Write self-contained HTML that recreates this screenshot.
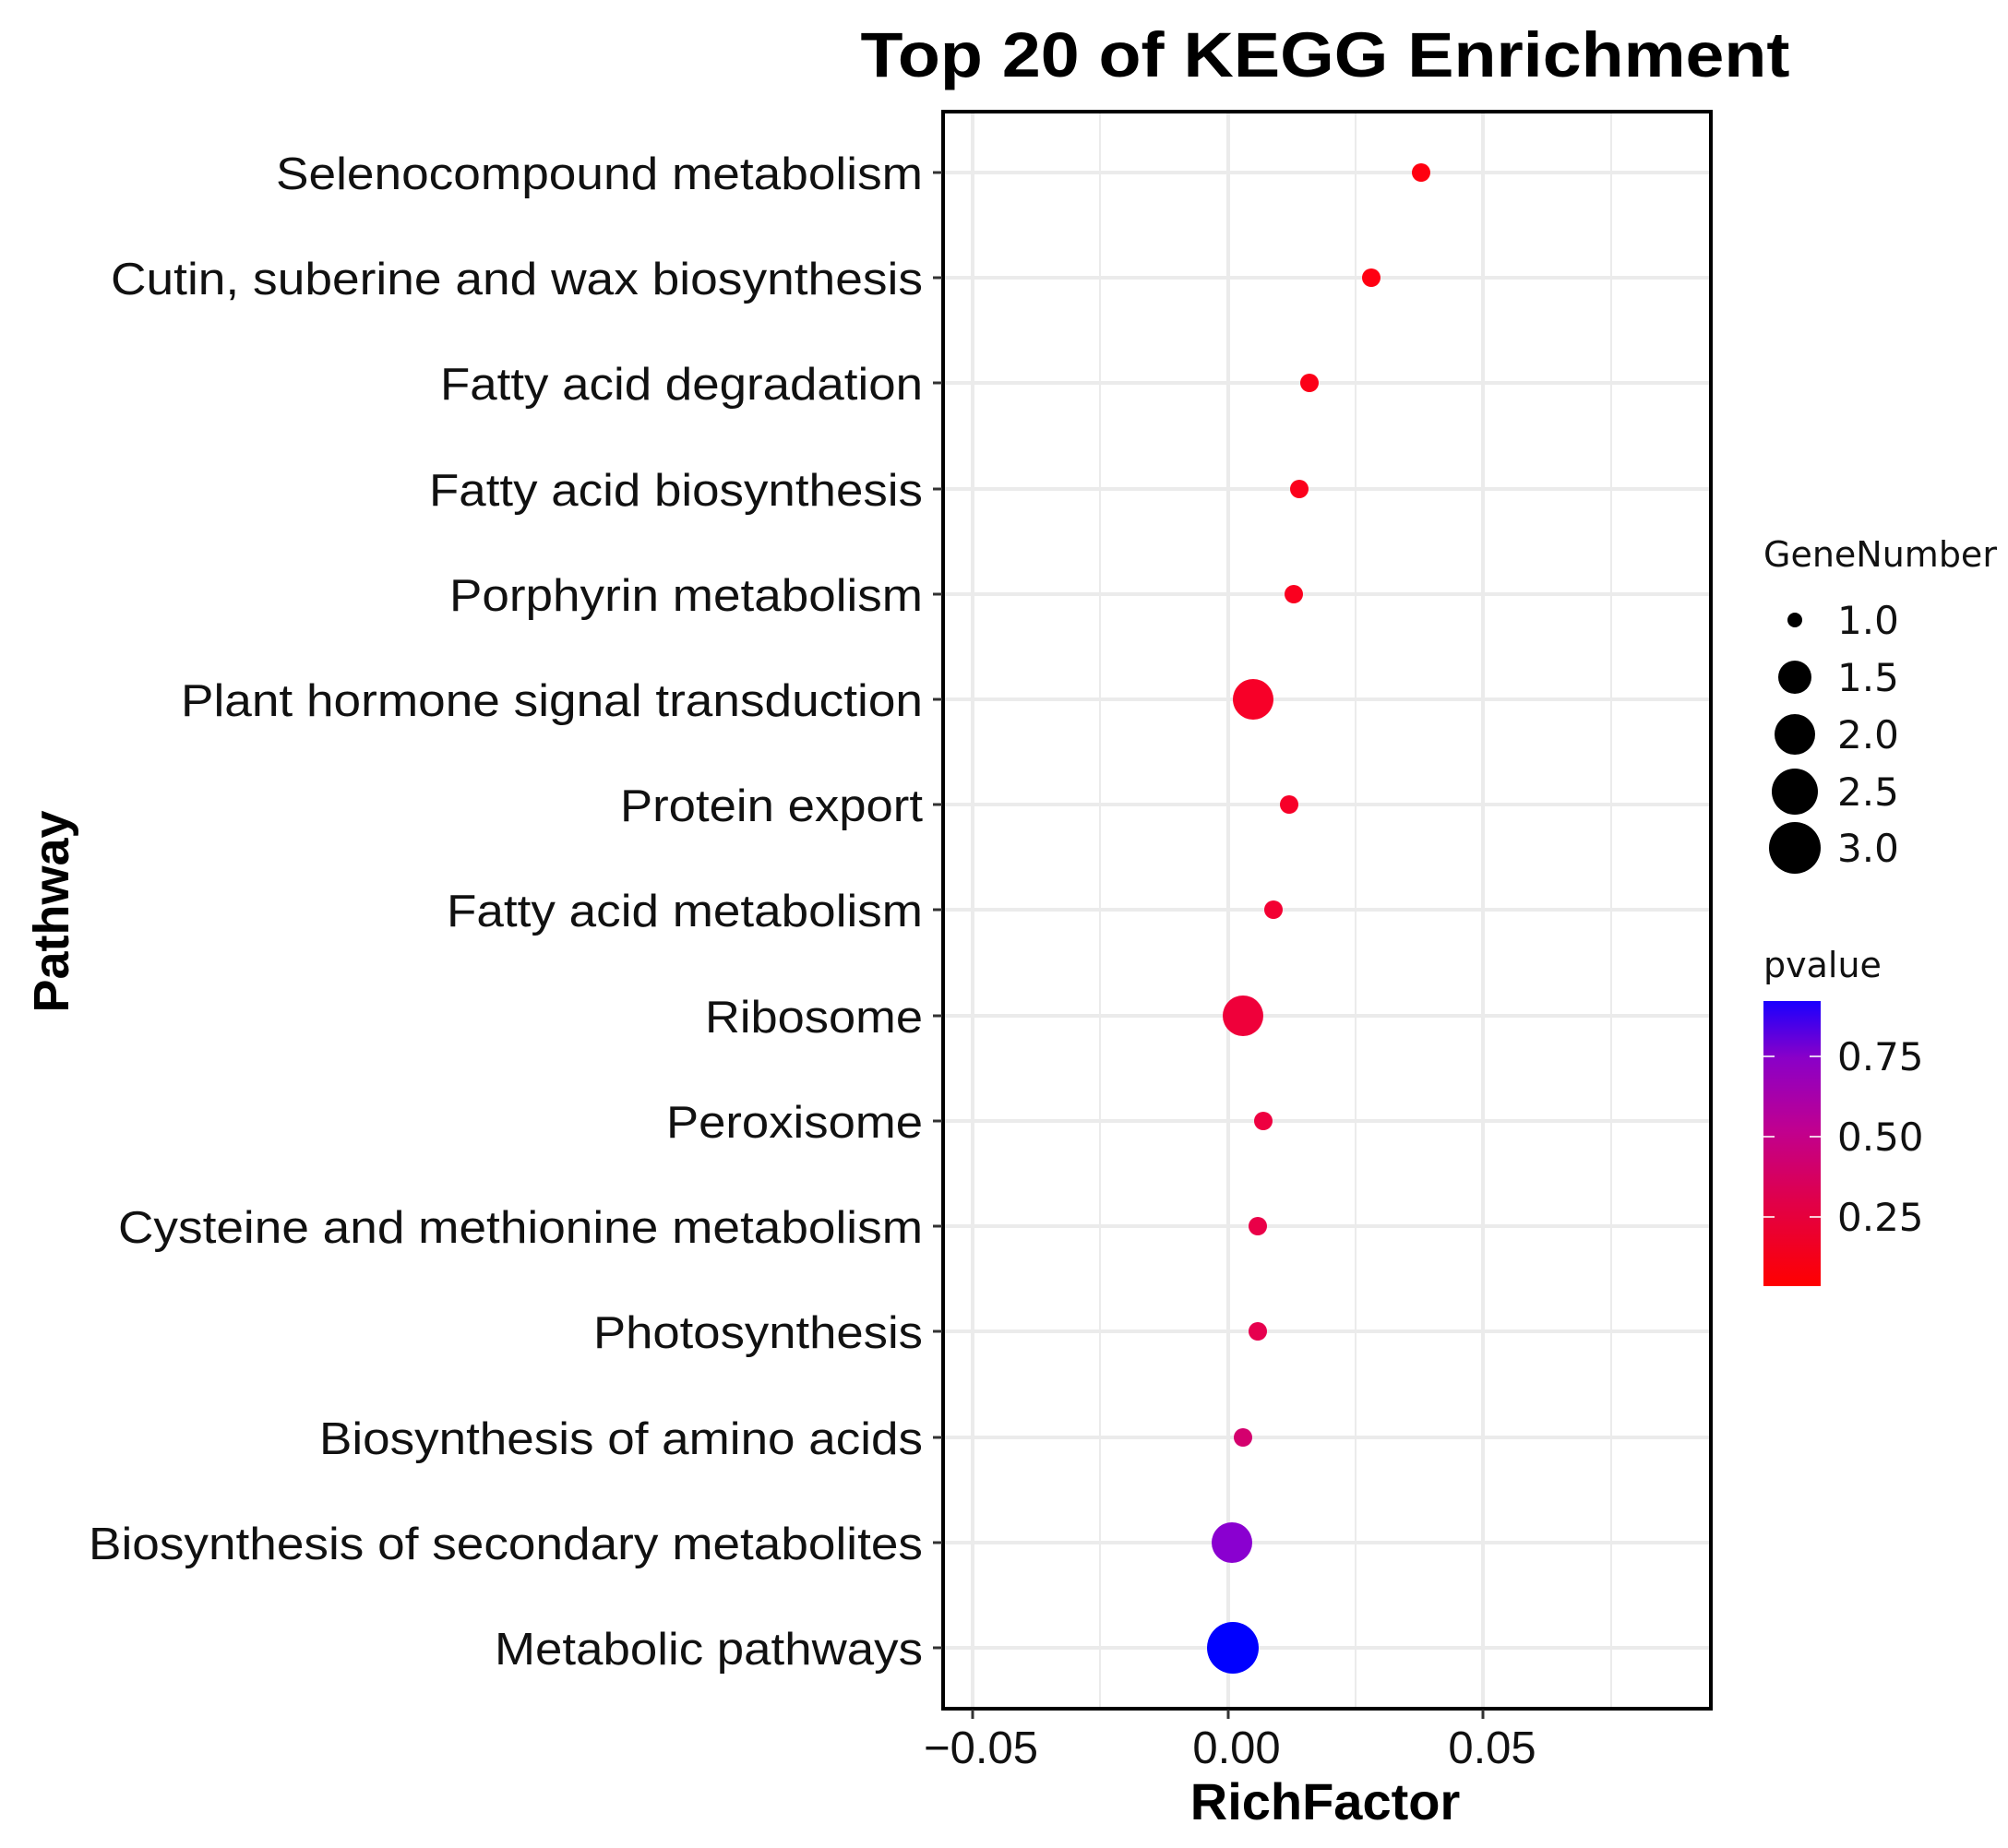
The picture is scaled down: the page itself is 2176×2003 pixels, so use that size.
<!DOCTYPE html>
<html><head><meta charset="utf-8"><style>html,body{margin:0;padding:0;background:#fff}</style></head>
<body>
<svg width="2176" height="1998" viewBox="0 0 2176 1998" xmlns="http://www.w3.org/2000/svg" font-family="Liberation Sans, Arial, sans-serif">
<defs>
<linearGradient id="pv" x1="0" y1="1" x2="0" y2="0">
<stop offset="0" stop-color="#ff0000"/>
<stop offset="0.3" stop-color="#e0004a"/>
<stop offset="0.55" stop-color="#c00090"/>
<stop offset="0.8" stop-color="#8a00c8"/>
<stop offset="1" stop-color="#1a00ff"/>
</linearGradient>
</defs>
<rect width="2176" height="1998" fill="#fff"/>
<text x="1436" y="83" font-size="69" font-weight="bold" text-anchor="middle" textLength="1007" lengthAdjust="spacingAndGlyphs">Top 20 of KEGG Enrichment</text>
<g stroke="#ebebeb">
<g stroke-width="2">
<line x1="1192" y1="122" x2="1192" y2="1851"/><line x1="1469" y1="122" x2="1469" y2="1851"/><line x1="1746" y1="122" x2="1746" y2="1851"/>
</g>
<g stroke-width="4">
<line x1="1054" y1="122" x2="1054" y2="1851"/><line x1="1331" y1="122" x2="1331" y2="1851"/><line x1="1607" y1="122" x2="1607" y2="1851"/>
<line x1="1023" y1="187" x2="1853" y2="187"/><line x1="1023" y1="301" x2="1853" y2="301"/><line x1="1023" y1="415" x2="1853" y2="415"/><line x1="1023" y1="530" x2="1853" y2="530"/><line x1="1023" y1="644" x2="1853" y2="644"/><line x1="1023" y1="758" x2="1853" y2="758"/><line x1="1023" y1="872" x2="1853" y2="872"/><line x1="1023" y1="986" x2="1853" y2="986"/><line x1="1023" y1="1101" x2="1853" y2="1101"/><line x1="1023" y1="1215" x2="1853" y2="1215"/><line x1="1023" y1="1329" x2="1853" y2="1329"/><line x1="1023" y1="1443" x2="1853" y2="1443"/><line x1="1023" y1="1558" x2="1853" y2="1558"/><line x1="1023" y1="1672" x2="1853" y2="1672"/><line x1="1023" y1="1786" x2="1853" y2="1786"/>
</g></g>
<circle cx="1540" cy="187" r="10" fill="#ff0010"/>
<circle cx="1486" cy="301" r="10" fill="#ff0012"/>
<circle cx="1419" cy="415" r="10" fill="#fc0018"/>
<circle cx="1408" cy="530" r="10" fill="#fb001c"/>
<circle cx="1402" cy="644" r="10" fill="#fa001f"/>
<circle cx="1358" cy="758" r="22" fill="#f70028"/>
<circle cx="1397" cy="872" r="10" fill="#f70028"/>
<circle cx="1380" cy="986" r="10" fill="#f30032"/>
<circle cx="1347" cy="1101" r="22" fill="#ef003a"/>
<circle cx="1369" cy="1215" r="10" fill="#ee0040"/>
<circle cx="1363" cy="1329" r="10" fill="#ea0048"/>
<circle cx="1363" cy="1443" r="10" fill="#e6004e"/>
<circle cx="1347" cy="1558" r="10" fill="#d4006e"/>
<circle cx="1335" cy="1672" r="22" fill="#8a00d0"/>
<circle cx="1336" cy="1786" r="28" fill="#0000ff"/>
<rect x="1022" y="121" width="832" height="1731" fill="none" stroke="#000" stroke-width="4"/>
<g stroke="#333" stroke-width="3">
<line x1="1011" y1="187" x2="1021" y2="187"/><line x1="1011" y1="301" x2="1021" y2="301"/><line x1="1011" y1="415" x2="1021" y2="415"/><line x1="1011" y1="530" x2="1021" y2="530"/><line x1="1011" y1="644" x2="1021" y2="644"/><line x1="1011" y1="758" x2="1021" y2="758"/><line x1="1011" y1="872" x2="1021" y2="872"/><line x1="1011" y1="986" x2="1021" y2="986"/><line x1="1011" y1="1101" x2="1021" y2="1101"/><line x1="1011" y1="1215" x2="1021" y2="1215"/><line x1="1011" y1="1329" x2="1021" y2="1329"/><line x1="1011" y1="1443" x2="1021" y2="1443"/><line x1="1011" y1="1558" x2="1021" y2="1558"/><line x1="1011" y1="1672" x2="1021" y2="1672"/><line x1="1011" y1="1786" x2="1021" y2="1786"/>
<line x1="1054" y1="1853" x2="1054" y2="1863"/><line x1="1331" y1="1853" x2="1331" y2="1863"/><line x1="1607" y1="1853" x2="1607" y2="1863"/>
</g>
<g font-size="49" fill="#111" text-anchor="end">
<text x="1000" y="205" textLength="701" lengthAdjust="spacingAndGlyphs">Selenocompound metabolism</text>
<text x="1000" y="319" textLength="880" lengthAdjust="spacingAndGlyphs">Cutin, suberine and wax biosynthesis</text>
<text x="1000" y="433" textLength="523" lengthAdjust="spacingAndGlyphs">Fatty acid degradation</text>
<text x="1000" y="548" textLength="535" lengthAdjust="spacingAndGlyphs">Fatty acid biosynthesis</text>
<text x="1000" y="662" textLength="513" lengthAdjust="spacingAndGlyphs">Porphyrin metabolism</text>
<text x="1000" y="776" textLength="804" lengthAdjust="spacingAndGlyphs">Plant hormone signal transduction</text>
<text x="1000" y="890" textLength="328" lengthAdjust="spacingAndGlyphs">Protein export</text>
<text x="1000" y="1004" textLength="516" lengthAdjust="spacingAndGlyphs">Fatty acid metabolism</text>
<text x="1000" y="1119" textLength="236" lengthAdjust="spacingAndGlyphs">Ribosome</text>
<text x="1000" y="1233" textLength="278" lengthAdjust="spacingAndGlyphs">Peroxisome</text>
<text x="1000" y="1347" textLength="872" lengthAdjust="spacingAndGlyphs">Cysteine and methionine metabolism</text>
<text x="1000" y="1461" textLength="357" lengthAdjust="spacingAndGlyphs">Photosynthesis</text>
<text x="1000" y="1576" textLength="654" lengthAdjust="spacingAndGlyphs">Biosynthesis of amino acids</text>
<text x="1000" y="1690" textLength="904" lengthAdjust="spacingAndGlyphs">Biosynthesis of secondary metabolites</text>
<text x="1000" y="1804" textLength="464" lengthAdjust="spacingAndGlyphs">Metabolic pathways</text>
</g>
<g font-size="49" fill="#111" text-anchor="middle">
<text x="1063" y="1911">−0.05</text>
<text x="1340" y="1911">0.00</text>
<text x="1617" y="1911">0.05</text>
</g>
<text x="1436" y="1972" font-size="56" font-weight="bold" text-anchor="middle">RichFactor</text>
<text transform="translate(74,988) rotate(-90)" font-size="54" font-weight="bold" text-anchor="middle">Pathway</text>
<g font-family="DejaVu Sans, sans-serif" fill="#111">
<text x="1911" y="614" font-size="38">GeneNumber</text>
<circle cx="1945" cy="672" r="8" fill="#000"/>
<circle cx="1945" cy="734" r="18" fill="#000"/>
<circle cx="1945" cy="796" r="22" fill="#000"/>
<circle cx="1945" cy="858" r="25" fill="#000"/>
<circle cx="1945" cy="919" r="28" fill="#000"/>
<g font-size="42"><text x="1991" y="687">1.0</text><text x="1991" y="749">1.5</text><text x="1991" y="811">2.0</text><text x="1991" y="873">2.5</text><text x="1991" y="934">3.0</text></g>
<text x="1911" y="1059" font-size="38">pvalue</text>
<rect x="1911" y="1085" width="62" height="309" fill="url(#pv)"/>
<g stroke="#fff" stroke-width="2" opacity="0.8">
<line x1="1911" y1="1145" x2="1923" y2="1145"/><line x1="1961" y1="1145" x2="1973" y2="1145"/>
<line x1="1911" y1="1232" x2="1923" y2="1232"/><line x1="1961" y1="1232" x2="1973" y2="1232"/>
<line x1="1911" y1="1319" x2="1923" y2="1319"/><line x1="1961" y1="1319" x2="1973" y2="1319"/>
</g>
<g font-size="42"><text x="1991" y="1160">0.75</text><text x="1991" y="1247">0.50</text><text x="1991" y="1334">0.25</text></g>
</g>
</svg>
</body></html>
